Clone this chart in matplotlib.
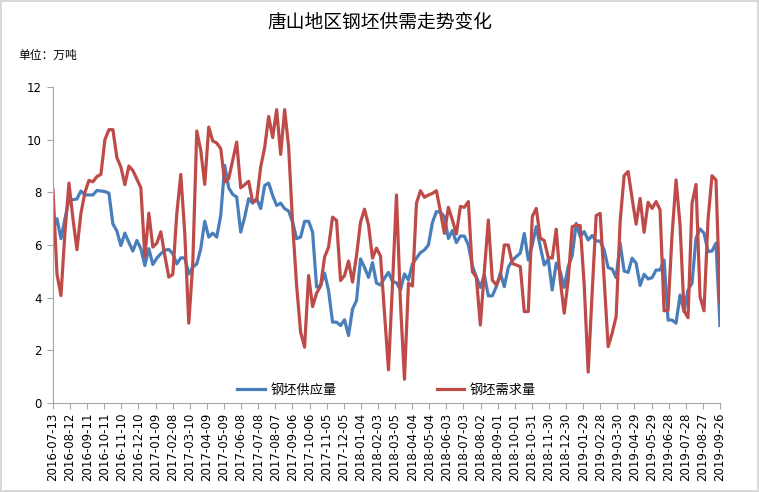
import pandas as pd
import matplotlib
matplotlib.use("Agg")
import matplotlib.pyplot as plt
import matplotlib.dates as mdates

plt.rcParams['font.family'] = ['DejaVu Sans', 'Noto Sans CJK SC']

# weekly data, 2016-07-13 .. 2019-09-26
start_date = '2016-07-13'
end_date = '2019-09-26'

supply = [6.55, 7.0, 6.24, 7.0, 7.7, 7.72, 7.75, 8.05, 7.9, 7.9,
          7.9, 8.07, 8.05, 8.03, 7.97, 6.8, 6.53, 5.98, 6.45, 6.1,
          5.77, 6.17, 5.86, 5.22, 5.86, 5.26, 5.5, 5.67, 5.8, 5.83,
          5.67, 5.28, 5.51, 5.51, 4.9, 5.16, 5.28, 5.86, 6.9, 6.3,
          6.45, 6.3, 7.12, 9.02, 8.17, 7.92, 7.82, 6.49, 7.06, 7.76,
          7.59, 7.76, 7.38, 8.26, 8.35, 7.88, 7.5, 7.59, 7.38, 7.29,
          6.87, 6.24, 6.3, 6.9, 6.9, 6.49, 4.4, 4.46, 4.93, 4.27,
          3.07, 3.07, 2.94, 3.16, 2.56, 3.57, 3.89, 5.47, 5.15, 4.77,
          5.33, 4.55, 4.48, 4.74, 4.96, 4.61, 4.57, 4.29, 4.9, 4.67,
          5.28, 5.5, 5.71, 5.81, 6.0, 6.85, 7.27, 7.24, 7.08, 6.25,
          6.55, 6.09, 6.34, 6.34, 6.0, 5.2, 4.8, 4.39, 4.86, 4.07,
          4.07, 4.42, 4.93, 4.42, 5.15, 5.41, 5.56, 5.69, 6.44, 5.43,
          6.0, 6.7, 5.94, 5.24, 5.46, 4.29, 5.31, 4.99, 4.39, 5.18,
          5.6, 6.82, 6.32, 6.51, 6.19, 6.36, 6.15, 6.15, 5.81, 5.14,
          5.09, 4.76, 6.07, 5.01, 4.96, 5.5, 5.31, 4.46, 4.89, 4.71,
          4.76, 5.05, 5.05, 5.43, 3.15, 3.15, 3.03, 4.1, 3.47, 4.29,
          4.55, 6.26, 6.61, 6.45, 5.75, 5.77, 6.07, 2.94]

demand = [8.1, 4.9, 4.08, 6.5, 8.35, 7.0, 5.82, 7.2, 8.0, 8.45,
          8.4, 8.6, 8.68, 10.0, 10.38, 10.38, 9.32, 8.96, 8.29, 9.0,
          8.83, 8.5, 8.17, 5.56, 7.21, 5.92, 6.07, 6.5, 5.6, 4.78,
          4.88, 7.19, 8.68, 6.43, 3.03, 5.28, 10.33, 9.6, 8.3, 10.48,
          9.95, 9.87, 9.66, 8.39, 8.52, 9.21, 9.91, 8.17, 8.29, 8.42,
          7.63, 7.69, 8.96, 9.7, 10.88, 10.08, 11.14, 9.44, 11.14, 9.72,
          6.8, 4.46, 2.69, 2.12, 4.84, 3.66, 4.17, 4.44, 5.54, 5.92,
          7.06, 6.93, 4.65, 4.84, 5.39, 4.59, 5.6, 6.87, 7.36, 6.76,
          5.5, 5.88, 5.58, 3.41, 1.26, 4.48, 7.9, 3.79, 0.9, 4.55,
          4.44, 7.58, 8.06, 7.81, 7.9, 7.96, 8.06, 7.27, 6.44, 7.43,
          6.95, 6.42, 7.46, 7.43, 7.65, 4.99, 4.77, 2.96, 5.0, 6.95,
          4.67, 4.48, 4.8, 6.0, 6.0, 5.3, 5.24, 5.18, 3.47, 3.47,
          7.08, 7.39, 6.26, 6.17, 5.53, 5.5, 6.6, 4.67, 3.41, 4.67,
          6.7, 6.74, 6.74, 4.5, 1.17, 4.2, 7.12, 7.2, 4.7, 2.14,
          2.65, 3.28, 6.89, 8.63, 8.79, 7.77, 6.79, 7.77, 6.48, 7.62,
          7.39, 7.65, 7.33, 3.5, 3.53, 6.38, 8.47, 6.76, 3.5, 3.24,
          7.58, 8.3, 4.04, 3.5, 6.95, 8.63, 8.47, 3.79]

dates = pd.date_range(start_date, end_date, periods=len(supply))
tick_dates = pd.date_range(start_date, end_date, freq='30D')

fig = plt.figure(figsize=(7.59, 4.92), dpi=100)
fig.patch.set_edgecolor('#d9d9d9')
fig.patch.set_linewidth(1.5)
ax = fig.add_axes([0.0698, 0.1809, 0.8788, 0.6423])

ax.plot(dates, supply, color='#4A7EBB', lw=2.3, label='钢坯供应量')
ax.plot(dates, demand, color='#BE4B48', lw=2.3, label='钢坯需求量')

ax.set_xlim(pd.Timestamp(start_date), pd.Timestamp(end_date))
ax.set_ylim(0, 12)
ax.set_yticks(range(0, 13, 2))
ax.set_xticks(tick_dates)
ax.xaxis.set_major_formatter(mdates.DateFormatter('%Y-%m-%d'))
plt.setp(ax.get_xticklabels(), rotation=90)

for s in ['top', 'right']:
    ax.spines[s].set_visible(False)
for s in ['left', 'bottom']:
    ax.spines[s].set_color('#a6a6a6')
ax.tick_params(axis='x', direction='out', length=4, color='#a6a6a6',
               labelsize=8.5, pad=3)
ax.tick_params(axis='y', direction='out', length=4, color='#a6a6a6',
               labelsize=8.5, pad=4)

fig.text(0.5, 0.955, '唐山地区钢坯供需走势变化', ha='center', va='center',
         fontsize=13.5)
fig.text(0.024, 0.888, '单位：万吨', ha='left', va='center', fontsize=8.5)

ax.legend(loc='lower center', bbox_to_anchor=(0.5, -0.017), ncol=2, frameon=False,
          fontsize=9.5, columnspacing=7.6, handlelength=2.1, handletextpad=0.4)

fig.savefig('out.png', dpi=100)
